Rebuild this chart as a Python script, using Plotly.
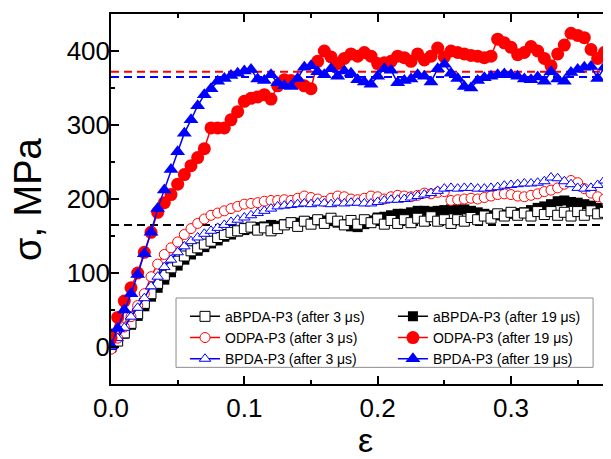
import plotly.graph_objects as go

strain = [0.000, 0.005, 0.010, 0.015, 0.020, 0.025, 0.030, 0.035, 0.040, 0.045,
          0.050, 0.055, 0.060, 0.065, 0.070, 0.075, 0.080, 0.085, 0.090, 0.095,
          0.100, 0.105, 0.110, 0.115, 0.120, 0.125, 0.130, 0.135, 0.140, 0.145,
          0.150, 0.155, 0.160, 0.165, 0.170, 0.175, 0.180, 0.185, 0.190, 0.195,
          0.200, 0.205, 0.210, 0.215, 0.220, 0.225, 0.230, 0.235, 0.240, 0.245,
          0.250, 0.255, 0.260, 0.265, 0.270, 0.275, 0.280, 0.285, 0.290, 0.295,
          0.300, 0.305, 0.310, 0.315, 0.320, 0.325, 0.330, 0.335, 0.340, 0.345,
          0.350, 0.355, 0.360, 0.365, 0.370, 0.375, 0.380]

abpda_3us = [0, 8, 19, 32, 45, 59, 72, 86, 97, 107,
             116, 123, 130, 134, 139, 143, 148, 152, 155, 157,
             160, 162, 158, 161, 157, 160, 165, 168, 163, 170,
             166, 172, 167, 174, 170, 165, 171, 166, 172, 168,
             173, 166, 171, 167, 172, 168, 174, 170, 176, 170,
             172, 167, 172, 170, 175, 172, 177, 174, 180, 177,
             182, 178, 181, 177, 183, 179, 183, 178, 182, 177,
             183, 178, 184, 180, 182, 173, 176]

abpda_19us = [18, 12, 18, 30, 42, 55, 68, 80, 91, 101,
              110, 118, 125, 130, 135, 140, 144, 149, 152, 156,
              158, 160, 162, 163, 165, 164, 166, 168, 168, 170,
              169, 171, 171, 170, 168, 166, 163, 162, 166, 171,
              175, 176, 178, 180, 180, 182, 184, 184, 183, 184,
              185, 186, 185, 186, 184, 182, 180, 178, 178, 179,
              180, 181, 182, 185, 188, 190, 193, 197, 198, 196,
              195, 193, 191, 188, 184, 182, 181]

odpa_3us = [-3, 12, 27, 41, 56, 72, 95, 112, 125, 134,
            142, 152, 160, 167, 173, 178, 181, 184, 187, 190,
            193, 194, 195, 197, 198, 198, 199, 198, 201, 204,
            202, 200, 197, 201, 204, 203, 200, 199, 201, 204,
            203, 200, 203, 205, 204, 203, 205, 208, 207, 209,
            210, 198, 199, 200, 201, 200, 202, 204, 206, 207,
            206, 204, 203, 205, 207, 210, 212, 215, 220, 225,
            222, 214, 208, 203, 200, 201, 203]

odpa_19us = [12, 40, 62, 80, 100, 128, 155, 182, 195, 206,
             220, 233, 245, 256, 268, 296, 296, 296, 307, 318,
             332, 336, 338, 341, 335, 353, 361, 360, 357, 353,
             349, 386, 400, 392, 383, 390, 396, 393, 398, 393,
             383, 384, 386, 393, 391, 386, 396, 388, 393, 404,
             392, 400, 398, 396, 394, 393, 391, 393, 416, 411,
             405, 395, 398, 406, 400, 390, 380, 396, 408, 424,
             421, 418, 402, 390, 398, 400, 402]

bpda_3us = [0, 12, 26, 41, 53, 66, 82, 95, 108, 118,
            128, 136, 143, 148, 153, 157, 161, 165, 169, 172,
            175, 178, 181, 184, 187, 190, 191, 192, 193, 194,
            193, 195, 194, 193, 195, 194, 195, 195, 194, 194,
            196, 198, 199, 199, 200, 202, 204, 206, 208, 211,
            214, 215, 214, 215, 215, 214, 214, 215, 216, 218,
            219, 220, 221, 221, 222, 224, 229, 228, 224, 220,
            215, 214, 215, 219, 225, 228, 224]

bpda_19us = [2, 25, 50, 72, 98, 126, 155, 187, 212, 240,
             264, 289, 307, 326, 341, 349, 359, 363, 367, 370,
             373, 375, 362, 360, 368, 357, 353, 352, 363, 378,
             380, 372, 368, 376, 366, 373, 370, 361, 358, 355,
             366, 376, 374, 357, 360, 362, 368, 366, 358, 376,
             382, 370, 363, 352, 350, 360, 364, 366, 368, 369,
             368, 366, 362, 361, 365, 359, 372, 362, 359, 371,
             375, 378, 379, 363, 378, 370, 372]

yield_levels = [372, 365, 165]
yield_colors = ["#ff0000", "#0000ff", "#000000"]

x_ticks = [0.0, 0.1, 0.2, 0.3]
x_tick_text = ["0.0", "0.1", "0.2", "0.3"]
y_ticks = [0, 100, 200, 300, 400]

series = [
    # name, values, color, symbol, filled, legend
    ("aBPDA-P3 (after 19 \u03bcs)", abpda_19us, "#000000", "square", True, "legend2"),
    ("aBPDA-P3 (after 3 \u03bcs)", abpda_3us, "#000000", "square", False, "legend"),
    ("ODPA-P3 (after 3 \u03bcs)", odpa_3us, "#ff0000", "circle", False, "legend"),
    ("BPDA-P3 (after 3 \u03bcs)", bpda_3us, "#0000ff", "triangle-up", False, "legend"),
    ("ODPA-P3 (after 19 \u03bcs)", odpa_19us, "#ff0000", "circle", True, "legend2"),
    ("BPDA-P3 (after 19 \u03bcs)", bpda_19us, "#0000ff", "triangle-up", True, "legend2"),
]
legend_rank = {
    "aBPDA-P3 (after 3 \u03bcs)": 1, "ODPA-P3 (after 3 \u03bcs)": 2, "BPDA-P3 (after 3 \u03bcs)": 3,
    "aBPDA-P3 (after 19 \u03bcs)": 1, "ODPA-P3 (after 19 \u03bcs)": 2, "BPDA-P3 (after 19 \u03bcs)": 3,
}

fig = go.Figure()
for name, vals, col, sym, filled, leg in series:
    if filled:
        marker = dict(symbol=sym, size=13 if sym != "square" else 10, color=col,
                      line=dict(width=0, color=col))
    else:
        marker = dict(symbol=sym, size=10, color="white", line=dict(width=1, color=col))
    fig.add_trace(go.Scatter(
        x=strain, y=vals, mode="lines+markers", name=name,
        line=dict(color=col, width=1.5), marker=marker,
        legend=leg, legendrank=legend_rank[name],
    ))

for lvl, col in zip(yield_levels, yield_colors):
    fig.add_shape(type="line", xref="paper", yref="y", x0=0, x1=1, y0=lvl, y1=lvl,
                  line=dict(color=col, width=2, dash="8px,5px"), layer="below")

# legend frame
fig.add_shape(type="rect", xref="paper", yref="paper", x0=0.128, x1=0.949, y0=0.045, y1=0.2324,
              line=dict(color="#8c8c8c", width=1), fillcolor="white", layer="above")

font_main = "Liberation Sans, Arial, sans-serif"
fig.update_layout(
    width=611, height=459,
    margin=dict(l=103, r=0, t=6, b=83),
    paper_bgcolor="white", plot_bgcolor="white",
    font=dict(family=font_main, color="#000000"),
    xaxis=dict(range=[0, 0.381], tickvals=x_ticks, ticktext=x_tick_text,
               ticks="inside", ticklen=8, tickwidth=1.5, tickcolor="black",
               minor=dict(dtick=0.05, tick0=0, ticks="inside", ticklen=4, tickwidth=1.5, tickcolor="black"),
               showline=True, linecolor="black", linewidth=1.5, mirror="ticks",
               showgrid=False, zeroline=False, tickfont=dict(size=26, family=font_main)),
    yaxis=dict(range=[-50, 450], tickvals=y_ticks,
               ticks="inside", ticklen=8, tickwidth=1.5, tickcolor="black",
               minor=dict(dtick=50, tick0=0, ticks="inside", ticklen=4, tickwidth=1.5, tickcolor="black"),
               showline=True, linecolor="black", linewidth=1.5, mirror=False,
               ticklabelstandoff=-6,
               showgrid=False, zeroline=False, tickfont=dict(size=26, family=font_main)),
    legend=dict(x=0.1457, y=0.225, xanchor="left", yanchor="top", bgcolor="rgba(0,0,0,0)",
                borderwidth=0, font=dict(size=14, family=font_main), tracegroupgap=0),
    legend2=dict(x=0.555, y=0.225, xanchor="left", yanchor="top", bgcolor="rgba(0,0,0,0)",
                 borderwidth=0, font=dict(size=14, family=font_main), tracegroupgap=0),
    annotations=[
        dict(text="\u03b5", xref="paper", yref="paper", x=0.5, y=-0.152, showarrow=False,
             xanchor="center", yanchor="middle", font=dict(size=34, family=font_main)),
        dict(text="\u03c3, MPa", xref="paper", yref="paper", x=-0.1634, y=0.5, showarrow=False,
             textangle=-90, xanchor="center", yanchor="middle", font=dict(size=38, family=font_main)),
    ],
)

fig.write_html("out.html")
